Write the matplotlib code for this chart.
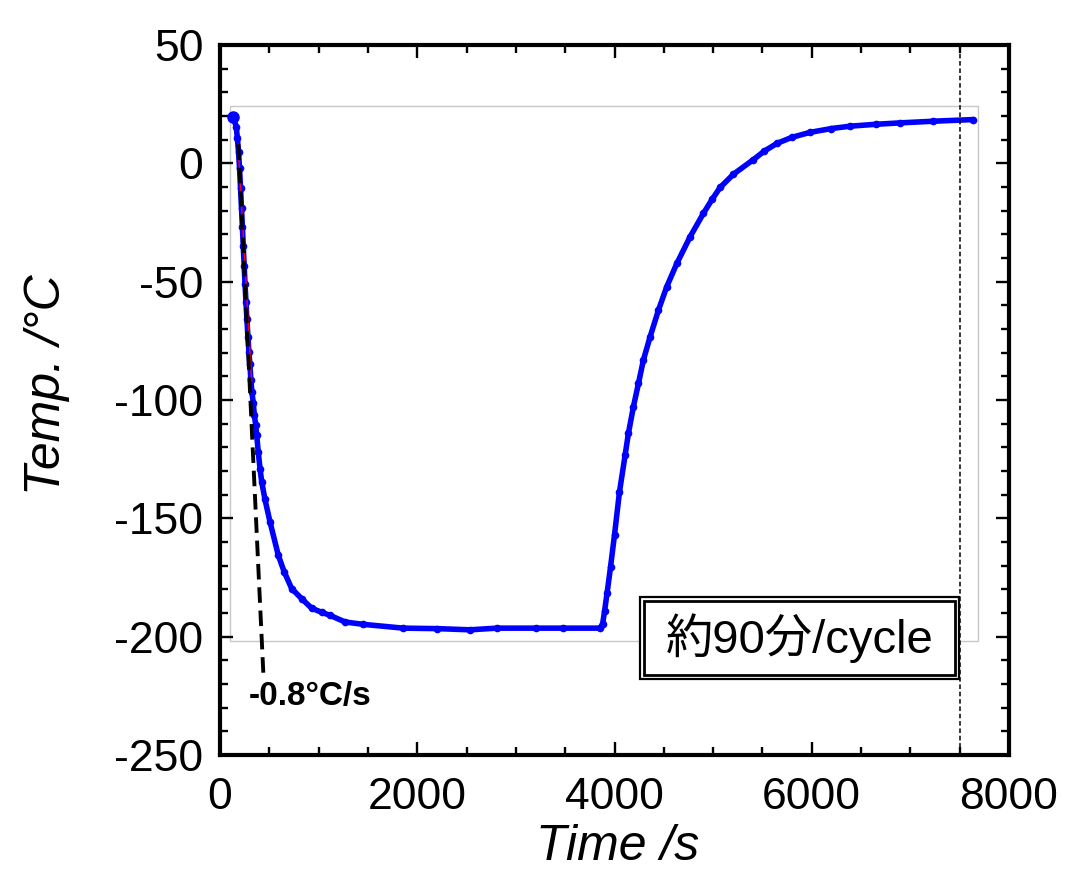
import matplotlib
matplotlib.use("Agg")
import matplotlib.pyplot as plt
from matplotlib.patches import Rectangle
from matplotlib.ticker import MultipleLocator

plt.rcParams['font.family'] = ['Liberation Sans', 'Noto Sans CJK JP', 'DejaVu Sans']
plt.rcParams['axes.unicode_minus'] = False

# ---- data ----
time_s = [135, 165, 176, 188, 198, 208, 218, 227, 236, 245, 254, 263, 273, 283,
          293, 303, 313, 323, 338, 348, 362, 372, 388, 406, 423, 456, 507, 591,
          650, 727, 829, 930, 1031, 1116, 1268, 1453, 1859, 2200, 2535, 2806,
          3200, 3482, 3854,
          3880, 3900, 3925, 3960, 4000, 4050, 4108, 4141, 4192, 4243, 4293,
          4361, 4446, 4530, 4632, 4767, 4902, 4990, 5071, 5206, 5409, 5520,
          5646, 5800, 5984, 6200, 6389, 6650, 6897, 7234, 7640]
temp_c = [19.5, 15.4, 10.7, 4.7, -2.0, -10.4, -18.9, -26.7, -35.1, -43.2, -51.1,
          -58.4, -65.9, -73.2, -79.6, -85.0, -91.4, -96.5, -101.4, -106.3,
          -110.6, -114.8, -122.0, -129.0, -134.6, -142.0, -151.5, -165.6,
          -172.5, -179.7, -184.0, -188.0, -189.7, -191.0, -193.8, -194.8,
          -196.4, -196.6, -197.1, -196.4,
          -196.4, -196.4, -196.4,
          -194.5, -189.0, -181.5, -170.5, -157.0, -139.0, -123.2, -114.1,
          -102.8, -93.0, -83.1, -73.3, -62.0, -52.1, -42.3, -31.0, -21.1,
          -15.2, -10.2, -4.6, 1.6, 5.2, 8.4, 11.0, 13.1, 14.7, 15.7, 16.5,
          17.1, 17.8, 18.5]

fit_t = [183, 321]          # red fit line
fit_T = [8, -92]
slope_t = [186, 440]        # black dashed slope line
slope_T = [8, -216]
cycle_end_t = 7500          # vertical dashed line

slope_label = "-0.8°C/s"
box_label = "約90分/cycle"
x_ticks = [0, 2000, 4000, 6000, 8000]
y_ticks = [-250, -200, -150, -100, -50, 0, 50]

W, H = 1065, 872
fig = plt.figure(figsize=(W / 100, H / 100), dpi=100)
ax = fig.add_axes([220 / W, 1 - 755 / H, 789 / W, 710 / H])

ax.plot(time_s, temp_c, color='#0000ff', lw=4.0, marker='o', ms=4.5,
        mec='#0000ff', mfc='#0000ff', zorder=3, solid_capstyle='round',
        solid_joinstyle='round')
ax.plot(time_s[:1], temp_c[:1], 'o', color='#0000ff', ms=8, zorder=3)
ax.plot(fit_t, fit_T, color='red', lw=1.0, zorder=4)
ax.plot(slope_t, slope_T, color='black', lw=2.8, linestyle=(0, (4, 2)), zorder=5)
ax.axvline(cycle_end_t, color='black', lw=1.1, linestyle=(0, (3, 1.8)), zorder=6)

ax.set_xlim(0, 8000)
ax.set_ylim(-250, 50)
ax.set_xticks(x_ticks)
ax.set_yticks(y_ticks)
ax.xaxis.set_minor_locator(MultipleLocator(500))
ax.yaxis.set_minor_locator(MultipleLocator(10))
ax.tick_params(which='both', direction='in', top=True, right=True, width=1.7)
ax.tick_params(which='major', length=9.5)
ax.tick_params(which='minor', length=6)
ax.tick_params(axis='x', which='major', labelsize=32, pad=16)
ax.tick_params(axis='y', which='major', labelsize=32, pad=12)
for s in ax.spines.values():
    s.set_linewidth(3)

# light gray frame (pasted-image border)
ax.add_patch(Rectangle((0.0127, 0.1606), 0.948, 0.7534, transform=ax.transAxes,
                       fill=False, ec='#c8c8c8', lw=1.0, zorder=1))

# double-bordered text box
ax.add_patch(Rectangle((0.5323, 0.1070), 0.4043, 0.1155, transform=ax.transAxes,
                       fc='white', ec='black', lw=1.6, zorder=5))
ax.add_patch(Rectangle((0.5374, 0.1127), 0.3942, 0.1042, transform=ax.transAxes,
                       fill=False, ec='black', lw=2.0, zorder=5))
ax.text(0.7345, 0.1648, box_label, transform=ax.transAxes, ha='center', va='center',
        fontsize=34, zorder=7)

ax.text(0.1141, 0.0817, slope_label, transform=ax.transAxes, ha='center', va='center',
        fontsize=24, fontweight='bold', zorder=7)

fig.text(618 / W, 1 - 860 / H, "Time /s", ha='center', va='baseline',
         fontsize=36, style='italic')
fig.text(47 / W, 1 - 385 / H, "Temp. /°C", ha='center', va='center',
         rotation=90, fontsize=36, style='italic')

fig.savefig("out.png", dpi=100)
